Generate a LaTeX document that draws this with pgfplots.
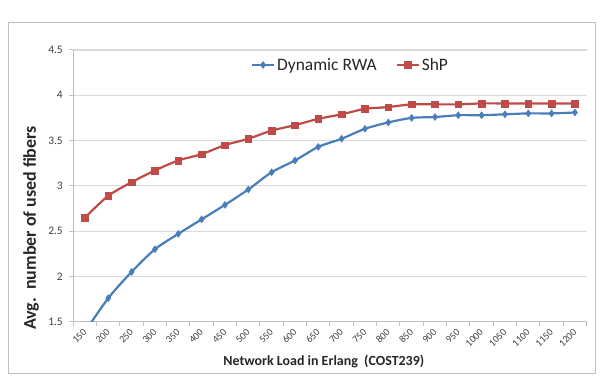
\documentclass[border=0pt]{standalone}
\usepackage{pgfplots}
\usepackage{pgfplotstable}
\pgfplotsset{compat=1.18}
\usepackage{fontspec}
\setmainfont{Carlito}

\definecolor{rwablue}{HTML}{4A7EBB}
\definecolor{shpred}{HTML}{BE4B48}
\definecolor{gridgray}{HTML}{D9D9D9}
\definecolor{axgray}{HTML}{BFBFBF}
\definecolor{ticktxt}{HTML}{404040}
\definecolor{labtxt}{HTML}{262626}

% idx = category position, load in Erlang, average number of used fibers
\pgfplotstableread{
idx load rwa  shp
0   150  1.39 2.65
1   200  1.76 2.89
2   250  2.05 3.04
3   300  2.30 3.17
4   350  2.47 3.28
5   400  2.63 3.35
6   450  2.79 3.45
7   500  2.96 3.52
8   550  3.15 3.61
9   600  3.28 3.67
10  650  3.43 3.74
11  700  3.52 3.79
12  750  3.63 3.85
13  800  3.70 3.87
14  850  3.75 3.90
15  900  3.76 3.90
16  950  3.78 3.90
17  1000 3.78 3.91
18  1050 3.79 3.91
19  1100 3.80 3.91
20  1150 3.80 3.91
21  1200 3.81 3.91
}\fibers

\begin{document}
\begin{tikzpicture}[x=1bp,y=1bp]
\useasboundingbox (0,0) rectangle (607,378);
% chart area frame
\draw[axgray, line width=1bp] (8.5,4.5) rectangle (595.5,355.5);
\begin{axis}[
  at={(73.3bp,56.3bp)}, anchor=south west,
  scale only axis, width=513.3bp, height=271.7bp,
  xmin=-0.5, xmax=21.5, ymin=1.5, ymax=4.5,
  xtick={0,...,21},
  xticklabels={150,200,250,300,350,400,450,500,550,600,650,700,750,800,850,900,950,1000,1050,1100,1150,1200},
  major x tick style={draw=none},
  minor xtick={-0.5,0.5,...,21.5},
  ytick={1.5,2,2.5,3,3.5,4,4.5},
  tick align=outside, major tick length=4bp, minor tick length=4bp,
  tick style={axgray, line width=1bp},
  axis x line*=bottom, axis y line*=left,
  axis line style={axgray, line width=1.2bp, -},
  ymajorgrids, grid style={gridgray, line width=1.2bp},
  /pgf/number format/assume math mode=true,
  xticklabel shift=5bp,
  x tick label style={rotate=45, anchor=east, inner sep=0pt,
    font=\fontsize{10}{10}\selectfont, text=ticktxt},
  y tick label style={font=\fontsize{11.5}{11.5}\selectfont, text=ticktxt, xshift=-3bp},
  xlabel={Network Load in Erlang\ \ (COST239)},
  xlabel style={at={(axis description cs:0.488,-0.147)}, anchor=center,
    font=\fontsize{14}{14}\selectfont\bfseries, text=labtxt},
  ylabel={Avg.\ \ number of used fibers},
  ylabel style={at={(axis description cs:-0.0824,0.345)}, anchor=center,
    font=\fontsize{18}{18}\selectfont\bfseries, text=labtxt},
  legend columns=2,
  legend style={at={(axis description cs:0.540,0.945)}, anchor=center,
    draw=none, fill=none, font=\fontsize{17.5}{17.5}\selectfont, text=labtxt,
    /tikz/every even column/.append style={column sep=17bp}},
  legend image code/.code={%
    \draw[mark repeat=2, mark phase=2] plot coordinates {(0bp,0bp) (11bp,0bp) (22bp,0bp)};},
]
\addplot[rwablue, line width=2.2bp, smooth, mark=diamond*, mark size=3.4bp,
  mark options={fill=rwablue, line width=0.6bp}]
  table[x=idx, y=rwa] {\fibers};
\addlegendentry{Dynamic RWA}
\addplot[shpred, line width=2.2bp, smooth, mark=square*, mark size=3.3bp,
  mark options={fill=shpred, line width=0.4bp}]
  table[x=idx, y=shp] {\fibers};
\addlegendentry{ShP}
\end{axis}
\end{tikzpicture}
\end{document}
